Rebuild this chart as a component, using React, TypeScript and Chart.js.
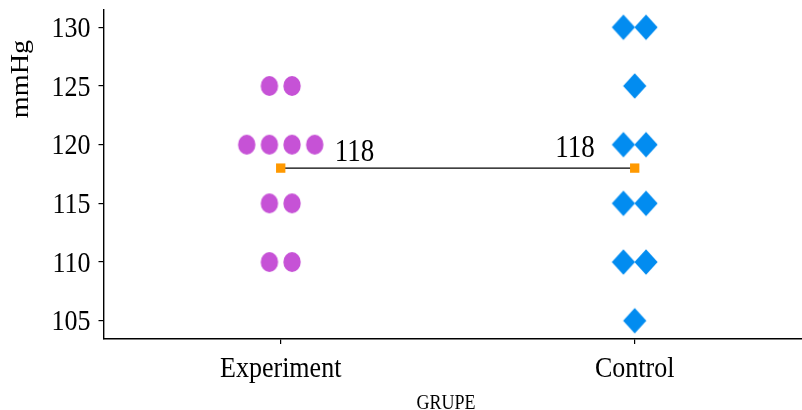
import React, { useEffect, useRef } from "react";
import { Chart, registerables } from "chart.js";

Chart.register(...registerables);

// ---- data ----
const groups = ["Experiment", "Control"];
const experimentValues = [125, 125, 120, 120, 120, 120, 115, 115, 110, 110];
const controlValues = [130, 130, 125, 120, 120, 115, 115, 110, 110, 105];
const yTicks = [105, 110, 115, 120, 125, 130];
const yTitle = "mmHg";
const xTitle = "GRUPE";

// ---- styling / layout constants ----
const FONT = "'Liberation Serif', 'Times New Roman', serif";
const STRETCH = 1.15; // vertical stretch of the reference rendering
const DOT_SPACING = 0.064; // dodge spacing in category units
const PURPLE = "#C652D6";
const BLUE = "#028CF0";
const ORANGE = "#FF9900";

function dodge(values: number[], groupPos: number) {
  const counts = new Map<number, number>();
  values.forEach((v) => counts.set(v, (counts.get(v) || 0) + 1));
  const seen = new Map<number, number>();
  return values.map((v) => {
    const n = counts.get(v) as number;
    const k = seen.get(v) || 0;
    seen.set(v, k + 1);
    return { x: groupPos + (k - (n - 1) / 2) * DOT_SPACING, y: v };
  });
}
const mean = (arr: number[]) => arr.reduce((a, b) => a + b, 0) / arr.length;

function makeEllipse(rx: number, ry: number, color: string) {
  const c = document.createElement("canvas");
  c.width = Math.ceil(rx * 2 + 2);
  c.height = Math.ceil(ry * 2 + 2);
  const g = c.getContext("2d") as CanvasRenderingContext2D;
  g.fillStyle = color;
  g.beginPath();
  g.ellipse(c.width / 2, c.height / 2, rx, ry, 0, 0, Math.PI * 2);
  g.fill();
  return c;
}
function makeDiamond(hw: number, hh: number, color: string) {
  const c = document.createElement("canvas");
  c.width = Math.ceil(hw * 2 + 2);
  c.height = Math.ceil(hh * 2 + 2);
  const g = c.getContext("2d") as CanvasRenderingContext2D;
  const cx = c.width / 2;
  const cy = c.height / 2;
  g.fillStyle = color;
  g.beginPath();
  g.moveTo(cx - hw, cy);
  g.lineTo(cx, cy - hh);
  g.lineTo(cx + hw, cy);
  g.lineTo(cx, cy + hh);
  g.closePath();
  g.fill();
  return c;
}

const textPlugin = {
  id: "serifText",
  afterDraw(chart: any) {
    const { ctx, chartArea } = chart;
    const xs = chart.scales.x;
    const ys = chart.scales.y;
    const put = (
      text: string,
      px: number,
      py: number,
      size: number,
      align: CanvasTextAlign,
      rotate = false
    ) => {
      ctx.save();
      ctx.translate(px, py);
      ctx.scale(1, STRETCH);
      if (rotate) ctx.rotate(-Math.PI / 2);
      ctx.font = `${size}px ${FONT}`;
      ctx.fillStyle = "#000";
      ctx.textAlign = align;
      ctx.textBaseline = "alphabetic";
      ctx.fillText(text, 0, 0);
      ctx.restore();
    };
    yTicks.forEach((v) =>
      put(String(v), chartArea.left - 13.5, ys.getPixelForValue(v) + 9.7, 26, "right")
    );
    groups.forEach((g, i) =>
      put(g, xs.getPixelForValue(i + 1), chartArea.bottom + 38, 26, "center")
    );
    const m1 = mean(experimentValues);
    const m2 = mean(controlValues);
    put(m1.toFixed(0), xs.getPixelForValue(1) + 54, ys.getPixelForValue(m1) - 7.5, 27, "left");
    put(m2.toFixed(0), xs.getPixelForValue(2) - 40, ys.getPixelForValue(m2) - 11, 27, "right");
    put(xTitle, (chartArea.left + chartArea.right) / 2 - 7, 408.5, 18, "center");
    put(yTitle, 27.5, 79, 24.5, "center", true);
  },
};

export default function App() {
  const ref = useRef<HTMLCanvasElement | null>(null);
  useEffect(() => {
    document.body.style.margin = "0";
    const canvas = ref.current;
    if (!canvas) return;
    const ellipse = makeEllipse(8.7, 9.9, PURPLE);
    const diamond = makeDiamond(11.6, 12.8, BLUE);
    const chart = new Chart(canvas, {
      type: "scatter",
      data: {
        datasets: [
          {
            label: "mean",
            data: [
              { x: 1, y: mean(experimentValues) },
              { x: 2, y: mean(controlValues) },
            ],
            showLine: true,
            borderColor: "#000",
            borderWidth: 1.4,
            pointStyle: "rect",
            pointRadius: 6.6,
            pointBackgroundColor: ORANGE,
            pointBorderWidth: 0,
          } as any,
          {
            label: groups[0],
            data: dodge(experimentValues, 1),
            pointStyle: ellipse as any,
          },
          {
            label: groups[1],
            data: dodge(controlValues, 2),
            pointStyle: diamond as any,
          },
        ],
      },
      options: {
        animation: false,
        responsive: false,
        events: [],
        layout: { autoPadding: false, padding: { top: 10, right: 0, left: 0, bottom: 0 } },
        plugins: { legend: { display: false }, tooltip: { enabled: false } },
        scales: {
          x: {
            type: "linear",
            min: 0.5008,
            max: 2.4726,
            afterBuildTicks: (s: any) => {
              s.ticks = groups.map((_, i) => ({ value: i + 1 }));
            },
            afterFit: (s: any) => {
              s.height = 71;
            },
            ticks: { display: false },
            grid: {
              display: true,
              drawOnChartArea: false,
              drawTicks: true,
              tickLength: 5,
              color: "#000",
              lineWidth: 1.2,
            },
            border: { display: true, color: "#000", width: 1.4 },
          },
          y: {
            type: "linear",
            min: 103.44,
            max: 131.47,
            afterBuildTicks: (s: any) => {
              s.ticks = yTicks.map((v) => ({ value: v }));
            },
            afterFit: (s: any) => {
              s.width = 104;
            },
            ticks: { display: false },
            grid: {
              display: true,
              drawOnChartArea: false,
              drawTicks: true,
              tickLength: 5.5,
              color: "#000",
              lineWidth: 1.2,
            },
            border: { display: true, color: "#000", width: 1.4 },
          },
        },
      },
      plugins: [textPlugin],
    });
    return () => chart.destroy();
  }, []);
  return (
    <div style={{ position: "absolute", left: 0, top: 0, width: 802, height: 410 }}>
      <canvas ref={ref} width={802} height={410} />
    </div>
  );
}
